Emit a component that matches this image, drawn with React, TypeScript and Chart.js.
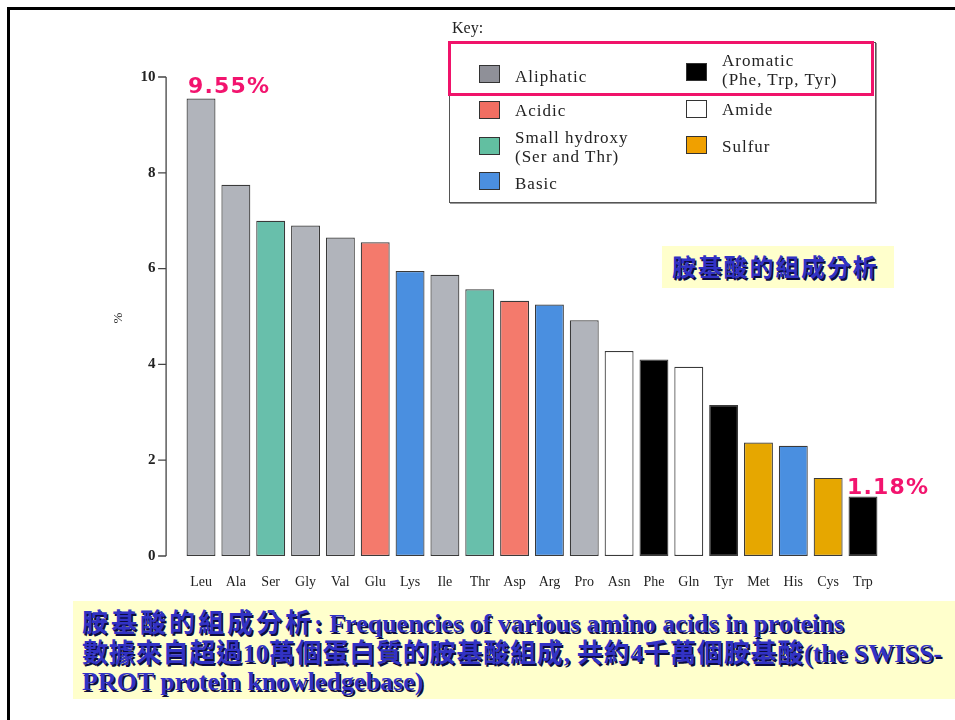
import React, { useEffect, useRef } from 'react';
import { Chart, registerables } from 'chart.js';

Chart.register(...registerables);

// ---- data ----
const categories = ['Leu', 'Ala', 'Ser', 'Gly', 'Val', 'Glu', 'Lys', 'Ile', 'Thr', 'Asp', 'Arg', 'Pro', 'Asn', 'Phe', 'Gln', 'Tyr', 'Met', 'His', 'Cys', 'Trp'];
const values = [9.55, 7.75, 7.0, 6.9, 6.65, 6.55, 5.95, 5.87, 5.57, 5.33, 5.25, 4.92, 4.28, 4.1, 3.95, 3.15, 2.37, 2.3, 1.63, 1.24];
const groups = ['aliphatic', 'aliphatic', 'hydroxy', 'aliphatic', 'aliphatic', 'acidic', 'basic', 'aliphatic', 'hydroxy', 'acidic', 'basic', 'aliphatic', 'amide', 'aromatic', 'amide', 'aromatic', 'sulfur', 'basic', 'sulfur', 'aromatic'];
const yTicks = [0, 2, 4, 6, 8, 10];

const legendKeys = ['aliphatic', 'aromatic', 'acidic', 'amide', 'hydroxy', 'sulfur', 'basic'];
const legendLabels = [['Aliphatic'], ['Aromatic', '(Phe, Trp, Tyr)'], ['Acidic'], ['Amide'], ['Small hydroxy', '(Ser and Thr)'], ['Sulfur'], ['Basic']];

const peakLabel = '9.55%';
const lowLabel = '1.18%';
const sideTitle = '胺基酸的組成分析';
const captionLines = [
  '胺基酸的組成分析: Frequencies of various amino acids in proteins',
  '數據來自超過10萬個蛋白質的胺基酸組成, 共約4千萬個胺基酸(the SWISS-',
  'PROT protein knowledgebase)',
];

// ---- styles ----
const barColors: Record<string, string> = {
  aliphatic: '#b1b4bb',
  acidic: '#f47a6c',
  hydroxy: '#68bfab',
  basic: '#4a8fe0',
  aromatic: '#000000',
  amide: '#ffffff',
  sulfur: '#e6a700',
};
const keyColors: Record<string, string> = {
  aliphatic: '#8f9098',
  acidic: '#f16e62',
  hydroxy: '#62bfa1',
  basic: '#4b8fe0',
  aromatic: '#000000',
  amide: '#ffffff',
  sulfur: '#f0a000',
};
// layout of key entries: [left, squareTop, textCenters...]
const keyPos: [number, number, number[]][] = [
  [479, 65, [76.5]],
  [686, 63, [61, 79.5]],
  [479, 101, [111]],
  [686, 100, [110]],
  [479, 137, [138, 157]],
  [686, 136, [147]],
  [479, 172, [184]],
];

const serif = '"Liberation Serif", "Times New Roman", serif';
const cjkBlue = '#3232c4';
const cjkShadow = '1.5px 1.5px 0 #0c0c40';

function splitRuns(text: string, cjkSpacing: number) {
  const parts = text.split(/([\u3000-\u9fff\uff00-\uffef]+)/);
  return parts.filter((p) => p.length > 0).map((p, i) => {
    const isCjk = /[\u3000-\u9fff\uff00-\uffef]/.test(p);
    return (
      <span
        key={i}
        style={
          isCjk
            ? { fontFamily: '"Noto Sans CJK TC", sans-serif', letterSpacing: cjkSpacing }
            : { fontFamily: serif }
        }
      >
        {p}
      </span>
    );
  });
}

const axisPlugin = {
  id: 'leftAxis',
  afterDraw(chart: any) {
    const y = chart.scales.y;
    const ctx = chart.ctx;
    const x = chart.chartArea.left - 17.5;
    ctx.save();
    ctx.strokeStyle = '#444';
    ctx.lineWidth = 1.3;
    ctx.beginPath();
    ctx.moveTo(x, y.getPixelForValue(yTicks[0]));
    ctx.lineTo(x, y.getPixelForValue(yTicks[yTicks.length - 1]));
    for (const v of yTicks) {
      const py = y.getPixelForValue(v);
      ctx.moveTo(x - 8, py);
      ctx.lineTo(x, py);
    }
    ctx.stroke();
    ctx.restore();
  },
};

export default function App() {
  const canvasRef = useRef<HTMLCanvasElement | null>(null);

  useEffect(() => {
    if (!canvasRef.current) return;
    const chart = new Chart(canvasRef.current, {
      type: 'bar',
      data: {
        labels: categories,
        datasets: [
          {
            data: values,
            backgroundColor: groups.map((g) => barColors[g]),
            borderColor: '#3a3a3a',
            borderWidth: 1.2,
            borderSkipped: false,
            barPercentage: 0.83,
            categoryPercentage: 1,
          },
        ],
      },
      options: {
        animation: false,
        responsive: false,
        devicePixelRatio: 1,
        layout: { padding: { left: 0, right: 74.6, top: 77, bottom: 124 } },
        plugins: { legend: { display: false }, tooltip: { enabled: false } },
        scales: {
          x: {
            grid: { display: false, drawTicks: false },
            border: { display: false },
            ticks: {
              padding: 18,
              autoSkip: false,
              maxRotation: 0,
              color: '#222',
              font: { family: serif, size: 14 },
            },
            afterFit: (s: any) => {
              s.height = 40;
            },
          },
          y: {
            min: 0,
            max: 10,
            grid: { display: false, drawTicks: false },
            border: { display: false },
            ticks: {
              stepSize: 2,
              padding: 28,
              color: '#222',
              font: { family: serif, size: 15, weight: 'bold' },
            },
            afterFit: (s: any) => {
              s.width = 183.6;
            },
          },
        },
      },
      plugins: [axisPlugin],
    } as any);
    return () => chart.destroy();
  }, []);

  const calloutStyle: React.CSSProperties = {
    position: 'absolute',
    lineHeight: '30px',
    fontFamily: '"DejaVu Sans", Verdana, sans-serif',
    fontWeight: 'bold',
    fontSize: 22,
    letterSpacing: 1.2,
    color: '#f2146e',
    whiteSpace: 'nowrap',
  };

  return (
    <div
      style={{
        position: 'absolute',
        left: 0,
        top: 0,
        width: 955,
        height: 720,
        overflow: 'hidden',
        background: '#fff',
      }}
    >
      {/* frame */}
      <div style={{ position: 'absolute', left: 7, top: 7, width: 960, height: 720, borderTop: '3px solid #000', borderLeft: '3px solid #000', boxSizing: 'border-box' }} />

      <canvas ref={canvasRef} width={955} height={720} style={{ position: 'absolute', left: 0, top: 0, width: 955, height: 720 }} />

      {/* y title */}
      <div style={{ position: 'absolute', left: 110, top: 308, width: 16, height: 20, lineHeight: '20px', textAlign: 'center', fontFamily: serif, fontSize: 13, color: '#222', transform: 'rotate(-90deg)' }}>%</div>

      {/* value callouts */}
      <div style={{ ...calloutStyle, left: 188, top: 71 }}>{peakLabel}</div>
      <div style={{ ...calloutStyle, left: 847, top: 472 }}>{lowLabel}</div>

      {/* key */}
      <div style={{ position: 'absolute', left: 452, top: 18, lineHeight: '20px', fontFamily: serif, fontSize: 16, color: '#222' }}>Key:</div>
      <div style={{ position: 'absolute', left: 449, top: 42, width: 427, height: 161, border: '1px solid #555', boxShadow: '1px 1px 0 #999', boxSizing: 'border-box', background: '#fff' }} />
      <div style={{ position: 'absolute', left: 448, top: 41, width: 426, height: 55, border: '3px solid #f0136a', boxSizing: 'border-box' }} />
      {legendKeys.map((k, i) => {
        const [left, sqTop, centers] = keyPos[i];
        return (
          <React.Fragment key={k}>
            <div style={{ position: 'absolute', left, top: sqTop, width: 21, height: 18, background: keyColors[k], border: '1.5px solid #333', boxSizing: 'border-box' }} />
            {legendLabels[i].map((t, j) => (
              <div key={j} style={{ position: 'absolute', left: left + 36, top: centers[j] - 10, lineHeight: '20px', fontFamily: serif, fontSize: 17, letterSpacing: 1.0, color: '#222', whiteSpace: 'nowrap' }}>{t}</div>
            ))}
          </React.Fragment>
        );
      })}

      {/* side title */}
      <div style={{ position: 'absolute', left: 662, top: 246, width: 232, height: 42, background: '#ffffcc' }} />
      <div style={{ position: 'absolute', left: 672, top: 250, lineHeight: '32px', fontFamily: '"Noto Sans CJK TC", sans-serif', fontWeight: 'bold', fontSize: 24, letterSpacing: 1.8, color: cjkBlue, textShadow: cjkShadow, whiteSpace: 'nowrap' }}>{sideTitle}</div>

      {/* caption */}
      <div style={{ position: 'absolute', left: 73, top: 601, width: 882, height: 98, background: '#ffffcc' }} />
      {captionLines.map((line, i) => (
        <div
          key={i}
          style={{
            position: 'absolute',
            left: 82,
            top: [606, 636, 667][i],
            height: 30,
            lineHeight: '30px',
            fontSize: 26,
            fontWeight: 'bold',
            color: cjkBlue,
            textShadow: cjkShadow,
            whiteSpace: 'nowrap',
          }}
        >
          {splitRuns(line, i === 0 ? 3 : 0.8)}
        </div>
      ))}
    </div>
  );
}
